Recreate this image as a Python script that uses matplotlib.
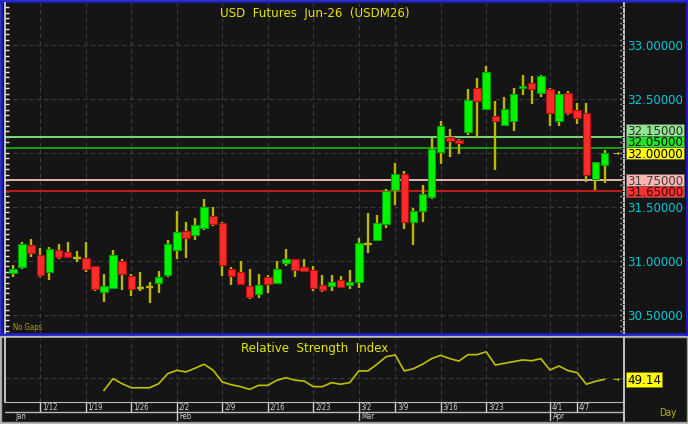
import matplotlib
matplotlib.use("Agg")
import matplotlib.pyplot as plt
import matplotlib.transforms as mtransforms
from matplotlib import font_manager as fm
from matplotlib.patches import Rectangle

# ---- data ----
opens = [30.89, 30.94, 31.15, 31.06, 30.90, 31.10, 31.08, 31.03, 31.03, 30.95,
         30.71, 30.75, 31.00, 30.86, 30.75, 30.76, 30.80, 30.87, 31.10, 31.28,
         31.24, 31.31, 31.42, 31.35, 30.93, 30.90, 30.77, 30.69, 30.85, 30.80,
         30.98, 31.02, 30.94, 30.92, 30.78, 30.77, 30.82, 30.78, 30.81, 31.16,
         31.19, 31.34, 31.66, 31.81, 31.36, 31.46, 31.59, 32.01, 32.15, 32.12,
         32.19, 32.60, 32.41, 32.34, 32.26, 32.30, 32.60, 32.65, 32.56, 32.59,
         32.30, 32.56, 32.40, 32.37, 31.76, 31.89]
highs = [30.96, 31.18, 31.20, 31.12, 31.13, 31.16, 31.18, 31.09, 31.18, 30.95,
         30.88, 31.10, 31.02, 30.88, 30.90, 30.81, 30.91, 31.19, 31.46, 31.36,
         31.40, 31.57, 31.50, 31.36, 30.94, 31.00, 30.93, 30.88, 30.87, 31.00,
         31.11, 31.02, 31.02, 30.95, 30.87, 30.87, 30.86, 30.92, 31.21, 31.44,
         31.43, 31.67, 31.91, 31.83, 31.49, 31.70, 32.14, 32.30, 32.22, 32.13,
         32.59, 32.69, 32.81, 32.48, 32.52, 32.60, 32.72, 32.71, 32.72, 32.60,
         32.57, 32.57, 32.46, 32.46, 31.92, 32.03]
lows = [30.85, 30.93, 31.04, 30.85, 30.82, 31.02, 31.04, 30.99, 30.90, 30.72,
        30.62, 30.74, 30.73, 30.68, 30.72, 30.61, 30.70, 30.85, 31.02, 31.03,
        31.19, 31.29, 31.32, 30.86, 30.78, 30.78, 30.65, 30.66, 30.70, 30.79,
        30.95, 30.85, 30.90, 30.72, 30.71, 30.72, 30.75, 30.74, 30.75, 31.07,
        31.19, 31.31, 31.52, 31.30, 31.15, 31.36, 31.57, 31.90, 31.96, 31.99,
        32.17, 32.15, 32.40, 31.84, 32.25, 32.20, 32.54, 32.45, 32.52, 32.25,
        32.25, 32.35, 32.27, 31.73, 31.66, 31.72]
closes = [30.93, 31.16, 31.07, 30.87, 31.11, 31.04, 31.04, 31.03, 30.93, 30.74,
          30.77, 31.06, 30.88, 30.74, 30.75, 30.76, 30.85, 31.16, 31.27, 31.21,
          31.33, 31.50, 31.34, 30.96, 30.86, 30.79, 30.67, 30.78, 30.79, 30.93,
          31.02, 30.92, 30.91, 30.75, 30.73, 30.81, 30.76, 30.81, 31.17, 31.16,
          31.35, 31.65, 31.81, 31.36, 31.46, 31.62, 32.04, 32.25, 32.11, 32.09,
          32.49, 32.48, 32.75, 32.30, 32.41, 32.55, 32.62, 32.59, 32.71, 32.37,
          32.55, 32.37, 32.32, 31.80, 31.92, 32.00]

rsi_first = 10
rsi = [42.3, 49.6, 46.4, 43.9, 43.9, 43.9, 46.4, 52.7, 54.8, 53.8,
       56.1, 58.6, 54.8, 47.5, 45.8, 44.6, 42.9, 45.4, 45.4, 48.6,
       50.2, 48.6, 48.1, 44.6, 44.6, 47.1, 46.1, 47.1, 54.4, 54.4,
       58.6, 63.3, 64.4, 54.4, 55.8, 58.6, 62.1, 64.2, 62.1, 60.6,
       64.6, 64.6, 66.4, 58.1, 59.2, 60.2, 61.3, 60.8, 62.1, 55.0,
       57.5, 54.6, 53.3, 46.1, 47.9, 49.14]

day_ticks = [3, 8, 13, 18, 23, 28, 33, 38, 42, 47, 52, 59, 62]
day_labels = ["1/12", "1/19", "1/26", "2/2", "2/9", "2/16", "2/23",
              "3/2", "3/9", "3/16", "3/23", "4/1", "4/7"]
month_ticks = [0, 18, 38, 59]
month_labels = ["Jan", "Feb", "Mar", "Apr"]

price_ticks = [30.5, 31.0, 31.5, 32.0, 32.5, 33.0]
levels = [32.15, 32.05, 31.75, 31.65]
level_line = ["#7ad87a", "#16a016", "#e6b4b4", "#c41c1c"]
level_box = ["#92e692", "#22e622", "#ffb4b4", "#ff3030"]
level_txt = ["#2a2a2a", "#0a0a0a", "#404040", "#400000"]

# ---- style ----
BG = "#151515"
GRID = "#3a3a3a"
YEL = "#e6e600"
CYAN = "#00c8d8"
WICK = "#b8b800"

names = {f.name for f in fm.fontManager.ttflist}
if "Liberation Sans Narrow" in names:
    FONT = dict(family="Liberation Sans Narrow")
    k = 1.0
else:
    FONT = dict(family="DejaVu Sans", stretch="condensed")
    k = 0.82

W, H = 688, 424
fig = plt.figure(figsize=(W / 100, H / 100), dpi=100, facecolor="#c0c0c0")


def px_axes(l, t, r, b, **kw):
    return fig.add_axes([l / W, 1 - b / H, (r - l) / W, (b - t) / H], **kw)


def clean(a, spines=()):
    a.set_facecolor(BG)
    for s in a.spines:
        a.spines[s].set_visible(s in spines)
    a.set_xticks([])
    a.set_yticks([])


# panel backgrounds
bg1 = px_axes(1, 1, 687, 334)
clean(bg1, spines=("left", "right", "top", "bottom"))
for s in bg1.spines.values():
    s.set_color("#2020c0")
    s.set_linewidth(2)
bg2 = px_axes(1, 337, 687, 422)
clean(bg2, spines=("left", "right", "top", "bottom"))
for s in bg2.spines.values():
    s.set_color("#9a9a9a")
    s.set_linewidth(1)

# x geometry: first candle centred at px 13, 9.1 px per bar
X0, DX = 13, 9.1
L, R = 5, 624
xlim = ((L - X0) / DX, (R - X0) / DX)

# ---- main price panel ----
T1, B1 = 3, 333
PPX = 108.0  # px per 1.0 price
ylim = (32 - (B1 - 153) / PPX, 32 - (T1 - 153) / PPX)
ax = px_axes(L, T1, R, B1)
ax.set_facecolor(BG)
ax.set_xlim(*xlim)
ax.set_ylim(*ylim)
for s in ("top", "bottom"):
    ax.spines[s].set_visible(False)
for s in ("left", "right"):
    ax.spines[s].set_color("#e0e0e0")
    ax.spines[s].set_linewidth(1.2)
ax.set_xticks([])
ax.set_yticks(price_ticks)
ax.set_yticks([30.35 + 0.05 * i for i in range(61)], minor=True)
ax.tick_params(axis="y", which="both", direction="in", left=True, right=True,
               labelleft=False, labelright=False, color="#e0e0e0", width=1)
ax.tick_params(axis="y", which="major", length=5)
ax.tick_params(axis="y", which="minor", length=3)

for p in price_ticks:
    ax.axhline(p, color=GRID, lw=0.8, ls=(0, (4, 3)), zorder=1)
for d in day_ticks:
    ax.axvline(d, color=GRID, lw=0.8, ls=(0, (4, 3)), zorder=1)

for lv, c in zip(levels, level_line):
    ax.axhline(lv, color=c, lw=1.4, zorder=2)

for i, (o, h, lo, c) in enumerate(zip(opens, highs, lows, closes)):
    ax.vlines(i, lo, h, color=WICK, lw=1.7, zorder=3)
    if abs(c - o) < 0.005:
        ax.hlines(c, i - 0.42, i + 0.42, color=WICK, lw=1.7, zorder=4)
    else:
        up = c > o
        ax.bar(i, abs(c - o), bottom=min(o, c), width=0.82,
               color="#00f400" if up else "#ff2a2a",
               edgecolor="#00a000" if up else "#b01010", lw=0.8, zorder=4)

ax.text(0.5, 0.988, "USD  Futures  Jun-26  (USDM26)", transform=ax.transAxes,
        ha="center", va="top", color=YEL, fontsize=11.5 * k, **FONT)
ax.text(0.013, 0.004, "No Gaps", transform=ax.transAxes, ha="left",
        va="bottom", color="#a8a800", fontsize=6.8 * k, **FONT)
ax.text(0.993, closes[-1], "\u2192", ha="right", va="center",
        transform=ax.get_yaxis_transform(), color=YEL, fontsize=6,
        family="DejaVu Sans")

# right-hand price labels
FS = 11.5 * k
cap = FS * 100 / 72 * 0.716
lab = px_axes(R, T1, 686, B1, sharey=ax)
lab.set_xlim(0, 686 - R)
lab.set_ylim(*ylim)
clean(lab)
lab.patch.set_alpha(0)
tr = mtransforms.offset_copy(lab.transData, fig=fig, y=-cap / 2, units="dots")
for p in price_ticks:
    lab.text(3.5, p, f"{p:.5f}", transform=tr, color=CYAN, fontsize=FS,
             va="baseline", ha="left", **FONT)

BOXH = 11.5 / PPX
last = closes[-1]
pos = {}
y_up, y_dn = last, last
for lv in sorted([l for l in levels if l > last]):
    y_up = max(lv, y_up + BOXH)
    pos[lv] = y_up
for lv in sorted([l for l in levels if l < last], reverse=True):
    y_dn = min(lv, y_dn - BOXH)
    pos[lv] = y_dn
boxes = [(last, "#ffff00", "#000000")] + [(lv, bc, tc) for lv, bc, tc in
                                           zip(levels, level_box, level_txt)]
for lv, bc, tc in boxes:
    yy = pos.get(lv, lv)
    lab.add_patch(Rectangle((2, yy - BOXH / 2), 58, BOXH, facecolor=bc,
                            edgecolor="#606060", lw=0.5, zorder=5))
    lab.text(3.5, yy, f"{lv:.5f}", transform=tr, color=tc, fontsize=FS,
             va="baseline", ha="left", zorder=6, **FONT)

# ---- RSI panel ----
T2, B2 = 338, 402
rlim = (35, 75)
ar = px_axes(L, T2, R, B2)
ar.set_facecolor(BG)
ar.set_xlim(*xlim)
ar.set_ylim(*rlim)
for s in ("top", "bottom"):
    ar.spines[s].set_visible(False)
for s in ("left", "right"):
    ar.spines[s].set_color("#e0e0e0")
    ar.spines[s].set_linewidth(1.2)
ar.set_xticks([])
ar.set_yticks([36.5 + 3.5 * i for i in range(11)])
ar.tick_params(axis="y", direction="in", left=True, right=True, length=3,
               labelleft=False, labelright=False, color="#e0e0e0")
ar.axhline(50, color=GRID, lw=0.8, ls=(0, (4, 3)))
for d in day_ticks:
    ar.axvline(d, color=GRID, lw=0.8, ls=(0, (4, 3)))
ar.plot(range(rsi_first, rsi_first + len(rsi)), rsi, color="#c0c000", lw=1.2)
ar.text(0.5, 0.93, "Relative  Strength  Index", transform=ar.transAxes,
        ha="center", va="top", color=YEL, fontsize=11.5 * k, **FONT)
ar.text(0.993, rsi[-1], "\u2192", ha="right", va="center",
        transform=ar.get_yaxis_transform(), color=YEL, fontsize=6,
        family="DejaVu Sans")

rlab = px_axes(R, T2, 686, B2, sharey=ar)
rlab.set_xlim(0, 686 - R)
rlab.set_ylim(*rlim)
clean(rlab)
rlab.patch.set_alpha(0)
rpp = (rlim[1] - rlim[0]) / (B2 - T2)
trr = mtransforms.offset_copy(rlab.transData, fig=fig, y=-cap / 2, units="dots")
rlab.add_patch(Rectangle((2, rsi[-1] - 7.5 * rpp), 36, 15 * rpp,
                         facecolor="#ffff00", edgecolor="#808000", lw=0.5))
rlab.text(3.5, rsi[-1], f"{rsi[-1]:.2f}", transform=trr, color="#000000",
          fontsize=FS, va="baseline", ha="left", **FONT)

# ---- date strip ----
ad = px_axes(L, B2, R, 421)
ad.set_facecolor(BG)
ad.set_xlim(*xlim)
ad.set_ylim(1, 0)
for s in ad.spines:
    ad.spines[s].set_visible(s in ("top", "right"))
ad.spines["top"].set_color("#b8b8b8")
ad.spines["right"].set_color("#e0e0e0")
ad.spines["right"].set_linewidth(1.2)
ad.set_xticks([])
ad.set_yticks([])
MID = 0.51
ad.axhline(MID, color="#b8b8b8", lw=1)
ad.vlines(day_ticks, 0, MID, color="#d0d0d0", lw=1)
ad.vlines(month_ticks[1:], MID, 1, color="#d0d0d0", lw=1)
for d, s in zip(day_ticks, day_labels):
    ad.text(d + 0.2, MID / 2 + 0.03, s, ha="left", va="center",
            color="#d0d0d0", fontsize=6.8 * k, **FONT)
for m, s in zip(month_ticks, month_labels):
    ad.text(m + 0.3, (1 + MID) / 2 + 0.03, s, ha="left", va="center",
            color="#d0d0d0", fontsize=6.8 * k, **FONT)
fig.text(668 / W, 1 - 413 / H, "Day", ha="center", va="center",
         color="#b8b800", fontsize=8.6 * k, **FONT)

fig.savefig("out.png", dpi=100, facecolor=fig.get_facecolor())
